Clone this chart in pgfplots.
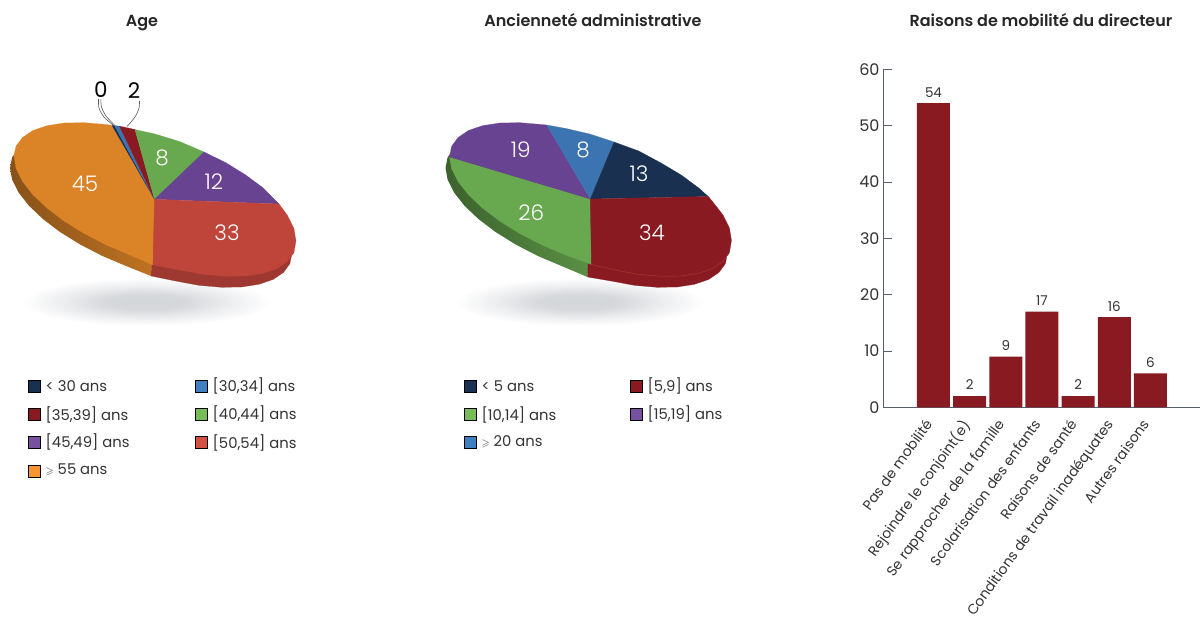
\documentclass[border=0pt]{standalone}
\usepackage{amssymb}
\usepackage{fontspec}
\setmainfont{Poppins Light}[BoldFont=Poppins SemiBold]
\newfontfamily\reg{Poppins}
\usepackage{pgfplots}
\pgfplotsset{compat=1.18}

\definecolor{navy}{HTML}{1A3050}
\definecolor{blue}{HTML}{3B74B0}
\definecolor{dred}{HTML}{8A1A21}
\definecolor{green}{HTML}{68A84F}
\definecolor{purple}{HTML}{684391}
\definecolor{red}{HTML}{BF453B}
\definecolor{orange}{HTML}{DA8327}
\definecolor{lnavy}{HTML}{1A3050}
\definecolor{lblue}{HTML}{4080C0}
\definecolor{lgreen}{HTML}{78BC58}
\definecolor{lpurple}{HTML}{7850A0}
\definecolor{lred}{HTML}{D45044}
\definecolor{lorange}{HTML}{F7962E}
\definecolor{txt}{HTML}{333333}
\definecolor{axln}{HTML}{55606A}
\definecolor{sh1}{HTML}{D2D5D8}
\definecolor{sh2}{HTML}{D6D8DB}
\definecolor{sh3}{HTML}{EBECEE}
\pgfdeclareradialshading{shad}{\pgfpoint{0bp}{0bp}}{color(0bp)=(sh1); color(8bp)=(sh2); color(16bp)=(sh3); color(25bp)=(white); color(50bp)=(white)}

\tikzset{wd/.style={fill=#1,draw=#1,line width=.2pt}}
\newcommand{\px}[1]{\fontsize{#1}{#1}\selectfont}
\newcommand{\leg}[5]{% square x, y, colour, text y, text
  \addplot[only marks,mark=square*,mark size=6pt,mark options={fill=#3,draw=none}] coordinates {(#1,#2)};
  \node[anchor=west,inner sep=0pt,text=txt,font=\reg\px{14.8}] at (axis cs:#1+11.5,#4) {#5};
}
\newcommand{\pl}[3]{\node[text=white,font=\px{21.5}] at (axis cs:#1,#2) {#3};}
\newcommand{\gs}{{$\scriptstyle\geqslant$}}

\begin{document}
\begin{tikzpicture}
\useasboundingbox (0,0) rectangle (1200pt,617pt);
\begin{axis}[
  at={(0,0)}, anchor=south west, scale only axis, width=1200pt, height=617pt,
  xmin=0, xmax=1200, ymin=0, ymax=617, y dir=reverse, hide axis, clip=false
]
% shadows
\shade[shading=shad] (axis cs:146,302) ellipse [x radius=125pt, y radius=24pt];
\shade[shading=shad] (axis cs:580,302) ellipse [x radius=125pt, y radius=24pt];

% Age, sides
\addplot[draw=none,left color=orange!62!black,right color=orange!88!black] coordinates {
 (18.5,148.6) (12.1,157.3) (10,167.9) (12.1,179.7) (18.5,192.4) (28.9,205.7) (43,219.1) (60.3,232.2)
 (80.5,244.7) (102.8,256.2) (126.5,266.2) (151,276) (155,199)} -- cycle;
\addplot[wd=red!82!black] coordinates {
 (151,276) (175.5,281) (199.2,285.4) (221.5,287.3) (241.7,287) (259,284.3) (273.1,279.5) (283.5,272.4)
 (289.9,263.7) (292,253.1) (289.9,241.3) (283.5,228.6) (155,199)} -- cycle;
% Age, top
\addplot[wd=orange] coordinates {(154.5,199.3) (153,265) (130.5,255.2) (106.8,245.2) (84.5,233.7) (64.3,221.2)
 (47,208.1) (32.9,194.7) (22.5,181.4) (16.1,168.7) (14,155) (16.1,146) (22.5,137.6) (32.9,130.5)
 (47,125.7) (64.3,123) (84.5,122.7) (106.8,124.6) (112,125.4)} -- cycle;
\addplot[wd=navy] coordinates {(154.5,199.3) (112,125.4) (114.5,125.6)} -- cycle;
\addplot[wd=blue] coordinates {(154.5,199.3) (114.5,125.6) (119.5,126.2)} -- cycle;
\addplot[wd=dred] coordinates {(154.5,199.3) (119.5,126.2) (130.5,128.5) (135,129.6)} -- cycle;
\addplot[wd=green] coordinates {(154.5,199.3) (135,129.6) (155,134) (179.5,141.5) (204,152)} -- cycle;
\addplot[wd=purple] coordinates {(154.5,199.3) (204,152) (225.5,162.5) (245.7,175) (263,187.8) (279,204)} -- cycle;
\addplot[wd=red] coordinates {(154.5,199.3) (279,204) (287.5,215.5) (293.9,228.5) (296,240.8) (293.9,252.7)
 (287.5,261.4) (277.1,268.5) (263,273.3) (245.7,276) (225.5,276.3) (203.2,274.4) (179.5,270) (153,265)} -- cycle;
% leader lines
\addplot[smooth,draw=black!65,line width=.6pt] coordinates {(98.5,99) (99,108) (104,117) (113,125)};
\addplot[smooth,draw=black!65,line width=.6pt] coordinates {(100.8,99) (101.5,107) (106,116) (115,125.5)};
\addplot[smooth,draw=black!65,line width=.6pt] coordinates {(139.5,101) (139,108) (135,117) (127,126.5)};
\node[font=\reg\px{21.5}] at (axis cs:101,90) {0};
\node[font=\reg\px{21.5}] at (axis cs:134,91) {2};
\pl{85}{184}{45}
\pl{227}{233}{33}
\pl{214}{182}{12}
\pl{162}{158}{8}

% Anciennete, sides
\addplot[draw=none,left color=green!58!black,right color=green!86!black] coordinates {
 (454,148.6) (447.6,157.3) (445.5,167.9) (447.6,179.7) (454,192.4) (464.4,205.7) (478.5,219.1) (495.8,232.2)
 (516,244.7) (538.3,256.2) (562,266.2) (587.5,277) (590.5,199)} -- cycle;
\addplot[wd=dred] coordinates {
 (587.5,277) (611,281) (634.7,285.4) (657,287.3) (677.2,287) (694.5,284.3) (708.6,279.5) (719,272.4)
 (725.4,263.7) (727.5,253.1) (725.4,241.3) (719,228.6) (590.5,199)} -- cycle;
% Anciennete, top
\addplot[wd=green] coordinates {(590.3,199) (591.5,264.5) (566,255.2) (542.3,245.2) (520,233.7) (499.8,221.2)
 (482.5,208.1) (468.4,194.7) (458,181.4) (451.6,168.7) (449.5,156.9)} -- cycle;
\addplot[wd=purple] coordinates {(590.3,199) (449.5,156.9) (451.6,146.3) (458,137.6) (468.4,130.5) (482.5,125.7)
 (499.8,123) (520,122.7) (542.3,124.6) (546.7,125)} -- cycle;
\addplot[wd=blue] coordinates {(590.3,199) (546.7,125) (566,128.5) (590.5,134.2) (614,142)} -- cycle;
\addplot[wd=navy] coordinates {(590.3,199) (614,142) (638.7,151) (661,163) (681.2,175) (698.5,187.8) (708.3,196.5)} -- cycle;
\addplot[wd=dred] coordinates {(590.3,199) (708.3,196.5) (712.6,201.7) (723,215) (729.4,228) (731.5,240.5) (729.4,252.7)
 (723,261.4) (712.6,268.5) (698.5,273.3) (681.2,276) (661,276.3) (638.7,274.4) (615,270) (591.5,264.5)} -- cycle;
\addplot[draw=red!70!dred,line width=.4pt] coordinates {(729.4,252.7) (723,261.4) (712.6,268.5) (698.5,273.3)
 (681.2,276) (661,276.3) (638.7,274.4) (615,270) (591.5,264.5)};
\pl{520.7}{150}{19}
\pl{583}{150}{8}
\pl{639}{174}{13}
\pl{531.3}{212.7}{26}
\pl{652}{233}{34}

% titles
\node[anchor=base,font=\bfseries\px{16},text=black!85] at (axis cs:142,26.5) {Age};
\node[anchor=base,font=\bfseries\px{16},text=black!85] at (axis cs:593,26.5) {Ancienneté administrative};
\node[anchor=base,font=\bfseries\px{16},text=black!85] at (axis cs:1041,26.5) {Raisons de mobilité du directeur};

% legends
\leg{34}{386}{lnavy}{386}{< 30 ans}
\leg{201}{386}{lblue}{386}{[30,34] ans}
\leg{34}{414}{dred}{415}{[35,39] ans}
\leg{201}{414}{lgreen}{414}{[40,44] ans}
\leg{34}{442}{lpurple}{442}{[45,49] ans}
\leg{201}{442}{lred}{443}{[50,54] ans}
\leg{34}{471}{lorange}{470}{\gs\ 55 ans}

\leg{470}{386}{lnavy}{386}{< 5 ans}
\leg{636}{386}{dred}{386}{[5,9] ans}
\leg{470}{414}{lgreen}{415}{[10,14] ans}
\leg{636}{414}{lpurple}{414}{[15,19] ans}
\leg{470}{442}{lblue}{442}{\gs\ 20 ans}
\end{axis}

\begin{axis}[
  at={(883pt,209.7pt)}, anchor=south west, scale only axis, width=317pt, height=338pt,
  ybar, bar width=33pt, bar shift=0pt,
  xmin=-1.396, xmax=7.37, ymin=0, ymax=60,
  axis x line*=bottom, axis y line*=left,
  axis line style={-,draw=axln,line width=.8pt},
  xtick={0,1,2,3,4,5,6},
  xticklabels={Pas de mobilité,Rejoindre le conjoint(e),Se rapprocher de la famille,Scolarisation des enfants,Raisons de santé,Conditions de travail inadéquates,Autres raisons},
  x tick style={draw=none},
  x tick label style={rotate=54,anchor=north east,inner sep=1pt,text=txt,font=\reg\px{14},xshift=-13pt,yshift=2.5pt},
  ytick={0,10,...,60},
  y tick style={draw=axln,line width=.8pt},
  tick align=inside, major tick length=8.5pt,
  y tick label style={text=txt,font=\reg\px{16}},
  /pgf/number format/assume math mode=true,
  nodes near coords,
  every node near coord/.append style={text=txt,font=\reg\px{13.5},yshift=2.5pt,/pgf/number format/assume math mode=true}
]
\addplot[fill=dred,draw=none] coordinates {(0,54) (1,2) (2,9) (3,17) (4,2) (5,16) (6,6)};
\end{axis}
\end{tikzpicture}
\end{document}
